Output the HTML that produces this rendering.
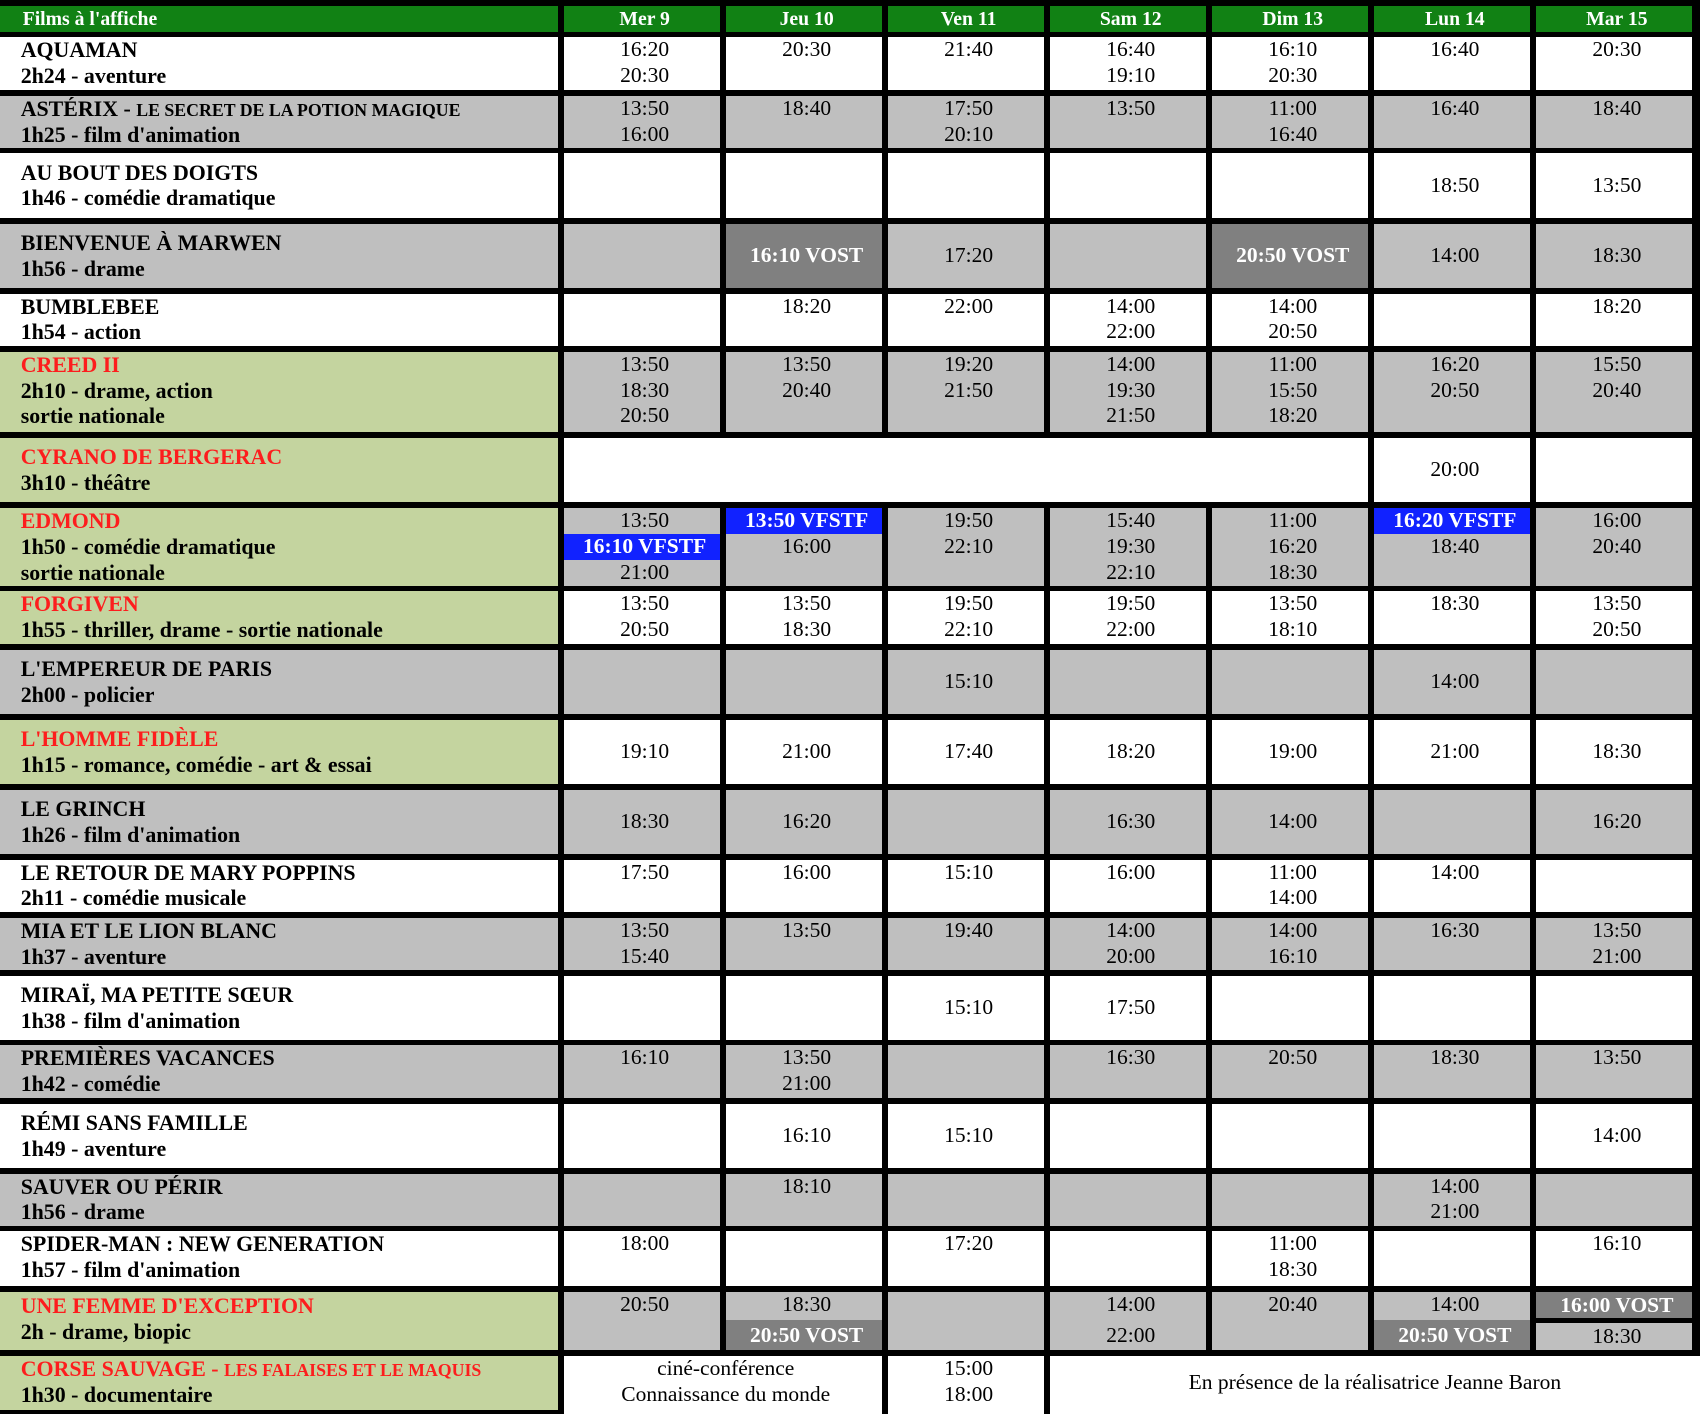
<!DOCTYPE html>
<html><head><meta charset="utf-8">
<style>
html,body{margin:0;padding:0}
body{width:1700px;height:1414px;background:#000;position:relative;overflow:hidden;font-family:"Liberation Serif","Times New Roman",serif}
.c{position:absolute;box-sizing:border-box;text-align:center;font-size:21.5px;line-height:25.8px;color:#000;white-space:nowrap;overflow:hidden;padding-left:5.5px}
.w{background:#fff}.g{background:#bfbfbf}.v{background:#c4d49f}
.d{background:#808080;color:#fff;font-weight:bold}
.b{background:#1122ff;color:#fff;font-weight:bold;margin-left:-5.5px;padding-left:5.5px}
.m{display:flex;flex-direction:column;justify-content:center}
.t{text-align:left;padding-left:20.7px;font-weight:bold;font-size:21.9px}
.r{color:#fd1d1d}
.s{font-size:17.8px;line-height:20px}
.h{background:#118114;color:#fff;font-weight:bold;font-size:19.7px;line-height:26px}
.x0{left:0;width:558.3px}
.x1{left:563.7px;width:156.4px}
.x2{left:725.7px;width:156.4px}
.x3{left:887.7px;width:156.4px}
.x4{left:1049.8px;width:156.4px}
.x5{left:1211.8px;width:156.4px}
.x6{left:1373.9px;width:156.4px}
.x7{left:1535.9px;width:156.4px}
.y0{top:5.7px;height:26px}
.y1{top:37.3px;height:53px}
.y2{top:96px;height:51.7px}
.y3{top:153.3px;height:64.4px}
.y4{top:223.7px;height:64.3px}
.y5{top:293.5px;height:52.8px}
.y6{top:351.8px;height:80.2px}
.y7{top:437.8px;height:64.7px}
.y8{top:508px;height:77.7px}
.y9{top:591px;height:53px}
.y10{top:649.7px;height:64.3px}
.y11{top:719.7px;height:64.3px}
.y12{top:789.7px;height:64.3px}
.y13{top:859.7px;height:52.6px}
.y14{top:918px;height:52px}
.y15{top:975.7px;height:64px}
.y16{top:1045.3px;height:52.7px}
.y17{top:1103.7px;height:64.3px}
.y18{top:1173.7px;height:52px}
.y19{top:1231.3px;height:54.4px}
.y20{top:1291.7px;height:58.3px}
.y21{top:1356px;height:54px}
</style></head><body>

<!-- header -->
<div class="c h x0 y0" style="text-align:left;padding-left:22.7px">Films à l'affiche</div>
<div class="c h x1 y0">Mer 9</div>
<div class="c h x2 y0">Jeu 10</div>
<div class="c h x3 y0">Ven 11</div>
<div class="c h x4 y0">Sam 12</div>
<div class="c h x5 y0">Dim 13</div>
<div class="c h x6 y0">Lun 14</div>
<div class="c h x7 y0">Mar 15</div>

<!-- R1 AQUAMAN -->
<div class="c t x0 y1 w">AQUAMAN<br>2h24 - aventure</div>
<div class="c x1 y1 w">16:20<br>20:30</div>
<div class="c x2 y1 w">20:30</div>
<div class="c x3 y1 w">21:40</div>
<div class="c x4 y1 w">16:40<br>19:10</div>
<div class="c x5 y1 w">16:10<br>20:30</div>
<div class="c x6 y1 w">16:40</div>
<div class="c x7 y1 w">20:30</div>

<!-- R2 ASTERIX -->
<div class="c t x0 y2 g">ASTÉRIX - <span class="s">LE SECRET DE LA POTION MAGIQUE</span><br>1h25 - film d'animation</div>
<div class="c x1 y2 g">13:50<br>16:00</div>
<div class="c x2 y2 g">18:40</div>
<div class="c x3 y2 g">17:50<br>20:10</div>
<div class="c x4 y2 g">13:50</div>
<div class="c x5 y2 g">11:00<br>16:40</div>
<div class="c x6 y2 g">16:40</div>
<div class="c x7 y2 g">18:40</div>

<!-- R3 AU BOUT DES DOIGTS -->
<div class="c t m x0 y3 w"><div>AU BOUT DES DOIGTS<br>1h46 - comédie dramatique</div></div>
<div class="c x1 y3 w"></div>
<div class="c x2 y3 w"></div>
<div class="c x3 y3 w"></div>
<div class="c x4 y3 w"></div>
<div class="c x5 y3 w"></div>
<div class="c m x6 y3 w"><div>18:50</div></div>
<div class="c m x7 y3 w"><div>13:50</div></div>

<!-- R4 BIENVENUE -->
<div class="c t m x0 y4 g"><div>BIENVENUE À MARWEN<br>1h56 - drame</div></div>
<div class="c x1 y4 g"></div>
<div class="c m x2 y4 d"><div>16:10 VOST</div></div>
<div class="c m x3 y4 g"><div>17:20</div></div>
<div class="c x4 y4 g"></div>
<div class="c m x5 y4 d"><div>20:50 VOST</div></div>
<div class="c m x6 y4 g"><div>14:00</div></div>
<div class="c m x7 y4 g"><div>18:30</div></div>

<!-- R5 BUMBLEBEE -->
<div class="c t x0 y5 w">BUMBLEBEE<br>1h54 - action</div>
<div class="c x1 y5 w"></div>
<div class="c x2 y5 w">18:20</div>
<div class="c x3 y5 w">22:00</div>
<div class="c x4 y5 w">14:00<br>22:00</div>
<div class="c x5 y5 w">14:00<br>20:50</div>
<div class="c x6 y5 w"></div>
<div class="c x7 y5 w">18:20</div>

<!-- R6 CREED -->
<div class="c t x0 y6 v"><span class="r">CREED II</span><br>2h10 - drame, action<br>sortie nationale</div>
<div class="c x1 y6 g">13:50<br>18:30<br>20:50</div>
<div class="c x2 y6 g">13:50<br>20:40</div>
<div class="c x3 y6 g">19:20<br>21:50</div>
<div class="c x4 y6 g">14:00<br>19:30<br>21:50</div>
<div class="c x5 y6 g">11:00<br>15:50<br>18:20</div>
<div class="c x6 y6 g">16:20<br>20:50</div>
<div class="c x7 y6 g">15:50<br>20:40</div>

<!-- R7 CYRANO -->
<div class="c t m x0 y7 v"><div><span class="r">CYRANO DE BERGERAC</span><br>3h10 - théâtre</div></div>
<div class="c y7 w" style="left:563.7px;width:804.5px"></div>
<div class="c m x6 y7 w"><div>20:00</div></div>
<div class="c x7 y7 w"></div>

<!-- R8 EDMOND -->
<div class="c t x0 y8 v"><span class="r">EDMOND</span><br>1h50 - comédie dramatique<br>sortie nationale</div>
<div class="c x1 y8 g">13:50<div class="b">16:10 VFSTF</div>21:00</div>
<div class="c x2 y8 g"><div class="b">13:50 VFSTF</div>16:00</div>
<div class="c x3 y8 g">19:50<br>22:10</div>
<div class="c x4 y8 g">15:40<br>19:30<br>22:10</div>
<div class="c x5 y8 g">11:00<br>16:20<br>18:30</div>
<div class="c x6 y8 g"><div class="b">16:20 VFSTF</div>18:40</div>
<div class="c x7 y8 g">16:00<br>20:40</div>

<!-- R9 FORGIVEN -->
<div class="c t x0 y9 v"><span class="r">FORGIVEN</span><br>1h55 - thriller, drame - sortie nationale</div>
<div class="c x1 y9 w">13:50<br>20:50</div>
<div class="c x2 y9 w">13:50<br>18:30</div>
<div class="c x3 y9 w">19:50<br>22:10</div>
<div class="c x4 y9 w">19:50<br>22:00</div>
<div class="c x5 y9 w">13:50<br>18:10</div>
<div class="c x6 y9 w">18:30</div>
<div class="c x7 y9 w">13:50<br>20:50</div>

<!-- R10 EMPEREUR -->
<div class="c t m x0 y10 g"><div>L'EMPEREUR DE PARIS<br>2h00 - policier</div></div>
<div class="c x1 y10 g"></div>
<div class="c x2 y10 g"></div>
<div class="c m x3 y10 g"><div>15:10</div></div>
<div class="c x4 y10 g"></div>
<div class="c x5 y10 g"></div>
<div class="c m x6 y10 g"><div>14:00</div></div>
<div class="c x7 y10 g"></div>

<!-- R11 HOMME FIDELE -->
<div class="c t m x0 y11 v"><div><span class="r">L'HOMME FIDÈLE</span><br>1h15 - romance, comédie - art &amp; essai</div></div>
<div class="c m x1 y11 w"><div>19:10</div></div>
<div class="c m x2 y11 w"><div>21:00</div></div>
<div class="c m x3 y11 w"><div>17:40</div></div>
<div class="c m x4 y11 w"><div>18:20</div></div>
<div class="c m x5 y11 w"><div>19:00</div></div>
<div class="c m x6 y11 w"><div>21:00</div></div>
<div class="c m x7 y11 w"><div>18:30</div></div>

<!-- R12 GRINCH -->
<div class="c t m x0 y12 g"><div>LE GRINCH<br>1h26 - film d'animation</div></div>
<div class="c m x1 y12 g"><div>18:30</div></div>
<div class="c m x2 y12 g"><div>16:20</div></div>
<div class="c x3 y12 g"></div>
<div class="c m x4 y12 g"><div>16:30</div></div>
<div class="c m x5 y12 g"><div>14:00</div></div>
<div class="c x6 y12 g"></div>
<div class="c m x7 y12 g"><div>16:20</div></div>

<!-- R13 MARY POPPINS -->
<div class="c t x0 y13 w">LE RETOUR DE MARY POPPINS<br>2h11 - comédie musicale</div>
<div class="c x1 y13 w">17:50</div>
<div class="c x2 y13 w">16:00</div>
<div class="c x3 y13 w">15:10</div>
<div class="c x4 y13 w">16:00</div>
<div class="c x5 y13 w">11:00<br>14:00</div>
<div class="c x6 y13 w">14:00</div>
<div class="c x7 y13 w"></div>

<!-- R14 MIA -->
<div class="c t x0 y14 g">MIA ET LE LION BLANC<br>1h37 - aventure</div>
<div class="c x1 y14 g">13:50<br>15:40</div>
<div class="c x2 y14 g">13:50</div>
<div class="c x3 y14 g">19:40</div>
<div class="c x4 y14 g">14:00<br>20:00</div>
<div class="c x5 y14 g">14:00<br>16:10</div>
<div class="c x6 y14 g">16:30</div>
<div class="c x7 y14 g">13:50<br>21:00</div>

<!-- R15 MIRAI -->
<div class="c t m x0 y15 w"><div>MIRAÏ, MA PETITE SŒUR<br>1h38 - film d'animation</div></div>
<div class="c x1 y15 w"></div>
<div class="c x2 y15 w"></div>
<div class="c m x3 y15 w"><div>15:10</div></div>
<div class="c m x4 y15 w"><div>17:50</div></div>
<div class="c x5 y15 w"></div>
<div class="c x6 y15 w"></div>
<div class="c x7 y15 w"></div>

<!-- R16 PREMIERES VACANCES -->
<div class="c t x0 y16 g">PREMIÈRES VACANCES<br>1h42 - comédie</div>
<div class="c x1 y16 g">16:10</div>
<div class="c x2 y16 g">13:50<br>21:00</div>
<div class="c x3 y16 g"></div>
<div class="c x4 y16 g">16:30</div>
<div class="c x5 y16 g">20:50</div>
<div class="c x6 y16 g">18:30</div>
<div class="c x7 y16 g">13:50</div>

<!-- R17 REMI -->
<div class="c t m x0 y17 w"><div>RÉMI SANS FAMILLE<br>1h49 - aventure</div></div>
<div class="c x1 y17 w"></div>
<div class="c m x2 y17 w"><div>16:10</div></div>
<div class="c m x3 y17 w"><div>15:10</div></div>
<div class="c x4 y17 w"></div>
<div class="c x5 y17 w"></div>
<div class="c x6 y17 w"></div>
<div class="c m x7 y17 w"><div>14:00</div></div>

<!-- R18 SAUVER OU PERIR -->
<div class="c t x0 y18 g">SAUVER OU PÉRIR<br>1h56 - drame</div>
<div class="c x1 y18 g"></div>
<div class="c x2 y18 g">18:10</div>
<div class="c x3 y18 g"></div>
<div class="c x4 y18 g"></div>
<div class="c x5 y18 g"></div>
<div class="c x6 y18 g">14:00<br>21:00</div>
<div class="c x7 y18 g"></div>

<!-- R19 SPIDER-MAN -->
<div class="c t x0 y19 w">SPIDER-MAN : NEW GENERATION<br>1h57 - film d'animation</div>
<div class="c x1 y19 w">18:00</div>
<div class="c x2 y19 w"></div>
<div class="c x3 y19 w">17:20</div>
<div class="c x4 y19 w"></div>
<div class="c x5 y19 w">11:00<br>18:30</div>
<div class="c x6 y19 w"></div>
<div class="c x7 y19 w">16:10</div>

<!-- R20 UNE FEMME D'EXCEPTION -->
<div class="c t x0 y20 v" style="padding-top:1.5px"><span class="r">UNE FEMME D'EXCEPTION</span><br>2h - drame, biopic</div>
<div class="c x1 y20 g">20:50</div>
<div class="c x2 y20 g">18:30</div>
<div class="c d x2" style="top:1320px;height:30px;line-height:30px">20:50 VOST</div>
<div class="c x3 y20 g"></div>
<div class="c x4 y20 g">14:00<div style="line-height:30px;margin-top:2.5px">22:00</div></div>
<div class="c x5 y20 g">20:40</div>
<div class="c x6 y20 g">14:00</div>
<div class="c d x6" style="top:1320px;height:30px;line-height:30px">20:50 VOST</div>
<div class="c d x7" style="top:1291.7px;height:26px;line-height:26px">16:00 VOST</div>
<div class="c g x7" style="top:1323.3px;height:26.7px;line-height:26.7px">18:30</div>

<!-- R21 CORSE SAUVAGE -->
<div class="c t x0 y21 v"><span class="r">CORSE SAUVAGE - <span class="s">LES FALAISES ET LE MAQUIS</span></span><br>1h30 - documentaire</div>
<div class="c w" style="left:563.7px;width:318.6px;top:1356px;height:58px">ciné-conférence<br>Connaissance du monde</div>
<div class="c w x3" style="top:1356px;height:58px">15:00<br>18:00</div>
<div class="c w m" style="left:1049.8px;width:650.2px;top:1356px;height:58px;padding-left:0;padding-bottom:4px"><div>En présence de la réalisatrice Jeanne Baron</div></div>

</body></html>
